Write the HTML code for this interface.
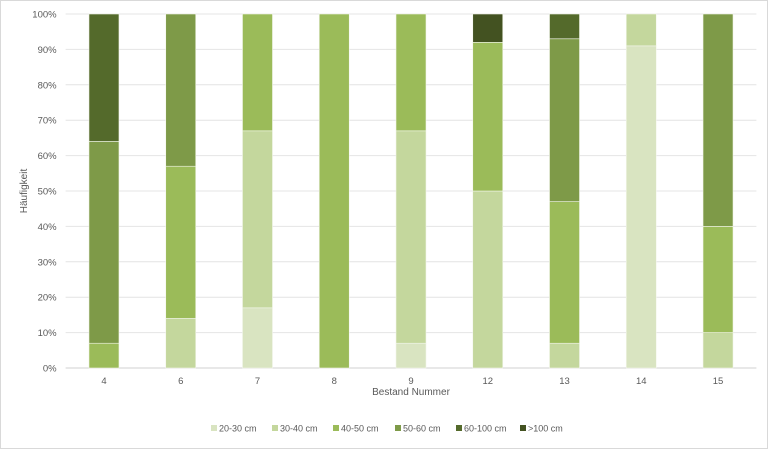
<!DOCTYPE html>
<html><head><meta charset="utf-8"><style>
body{margin:0;background:#fff;font-family:"Liberation Sans",sans-serif}
svg text{font-family:"Liberation Sans",sans-serif;fill:#595959}
</style></head><body>
<svg width="768" height="449">
<rect x="0.5" y="0.5" width="767" height="448" fill="#fff" stroke="#d9d9d9"/>
<g id="grid"></g><g id="bars"></g><g id="axes"></g><g id="legend"></g>
<text x="0" y="0" transform="translate(27,191) rotate(-90)" text-anchor="middle" font-size="10">Häufigkeit</text>
<text x="411" y="395" text-anchor="middle" font-size="10">Bestand Nummer</text>
</svg>
<script>
const categories=["4","6","7","8","9","12","13","14","15"];
const seriesNames=["20-30 cm","30-40 cm","40-50 cm","50-60 cm","60-100 cm",">100 cm"];
const s2030=[0,0,17,0,7,0,0,91,0];
const s3040=[0,14,50,0,60,50,7,9,10];
const s4050=[7,43,33,100,33,42,40,0,30];
const s5060=[57,43,0,0,0,0,46,0,60];
const s60100=[36,0,0,0,0,0,7,0,0];
const s100p=[0,0,0,0,0,8,0,0,0];
const yTicks=[0,10,20,30,40,50,60,70,80,90,100];
const colors=["#d9e4c1","#c4d79d","#9bbb59","#7e9a48","#546a2b","#435221"];
const series=[s2030,s3040,s4050,s5060,s60100,s100p];
const NS="http://www.w3.org/2000/svg";
const X0=65.6,X1=756.4,Y0=368,Y1=14;
const band=(X1-X0)/categories.length;
const xc=i=>X0+band*(i+0.5);
const y=v=>Y0-(Y0-Y1)*v/100;
function mk(t,a,p){const e=document.createElementNS(NS,t);for(const k in a)e.setAttribute(k,a[k]);p.appendChild(e);return e;}
const grid=document.getElementById('grid'),bars=document.getElementById('bars'),axes=document.getElementById('axes'),legend=document.getElementById('legend');
yTicks.forEach(t=>{
  const l=mk('line',{x1:X0,x2:X1,y1:y(t),y2:y(t),stroke:t===0?'#d0d0d0':'#e4e4e4','stroke-width':1},grid);
  
  
  const tx=mk('text',{x:X0-9,y:y(t)+3.5,'text-anchor':'end','font-size':9.5},axes);
  tx.textContent=t+'%';
  
  
});
categories.forEach((c,i)=>{
  let acc=0;
  series.forEach((s,k)=>{
    const v=s[i];if(!v)return;
    const r=mk('rect',{x:xc(i)-15,y:y(acc+v),width:30,height:y(acc)-y(acc+v),fill:colors[k],stroke:'#f2f5ea','stroke-width':0.6},bars);
    
    
    acc+=v;
  });
  const tx=mk('text',{x:xc(i),y:384,'text-anchor':'middle','font-size':9.5},axes);
  tx.textContent=c;
  
  
});
const lx=[211,272,333,395,456,520];
seriesNames.forEach((n,k)=>{
  const g=mk('g',{},legend);
  
  
  mk('rect',{x:lx[k],y:425,width:6,height:6,fill:colors[k]},g);
  const t=mk('text',{x:lx[k]+8,y:431.5,'font-size':9},g);
  t.textContent=n;
});
</script>
</body></html>
